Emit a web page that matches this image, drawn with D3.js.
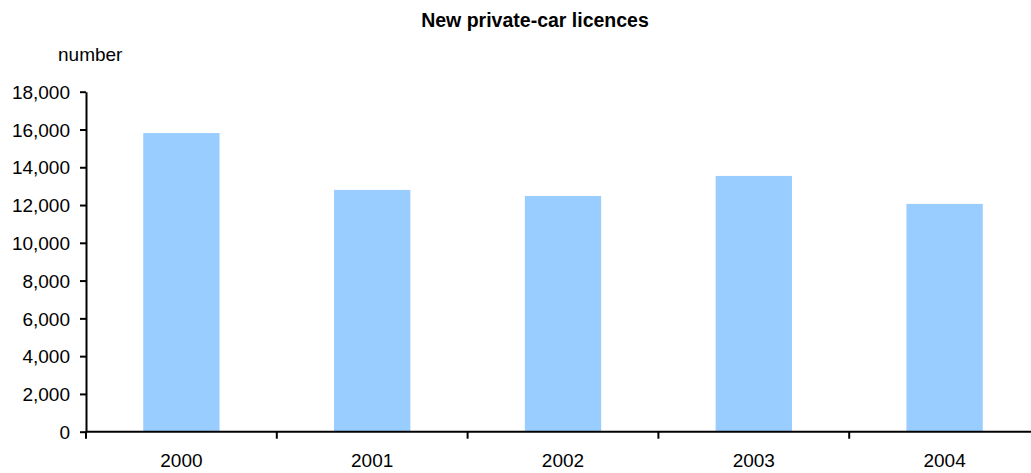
<!DOCTYPE html>
<html><head><meta charset="utf-8">
<script src="https://cdn.jsdelivr.net/npm/d3@7"></script>
<style>body{margin:0;background:#fff}svg{display:block}text{font-family:"Liberation Sans",Arial,sans-serif;fill:#000}</style>
</head><body><svg id="c" width="1031" height="473"></svg>
<script>
const categories = ["2000","2001","2002","2003","2004"];
const values = [15810, 12800, 12480, 13540, 12060];
const yTicks = [0,2000,4000,6000,8000,10000,12000,14000,16000,18000];
const title = "New private-car licences";
const yLabel = "number";

(function(){
const svg = d3.select("#c");
const mL = 86, mR = 1040, mT = 91.7, mB = 431.7;
const x = d3.scaleBand().domain(categories).range([mL, mR]).paddingInner(0.6).paddingOuter(0.3);
const y = d3.scaleLinear().domain([0, 18000]).range([mB, mT]);

svg.selectAll("rect.bar").data(values).join("rect").attr("class","bar")
  .attr("x",(d,i)=>x(categories[i])).attr("width",x.bandwidth())
  .attr("y",d=>y(d)).attr("height",d=>mB-y(d)).attr("fill","#99CCFF");

const yAxis = svg.append("g").attr("transform",`translate(${mL},0)`)
  .call(d3.axisLeft(y).tickValues(yTicks).tickFormat(d3.format(",")).tickSize(6).tickSizeOuter(0).tickPadding(10));
yAxis.selectAll("text").style("font-size","19px").attr("dy","0.35em");
yAxis.selectAll("line,path").attr("stroke","#000").attr("stroke-width",2);

const xg = svg.append("g");
xg.append("line").attr("x1",mL).attr("x2",mR).attr("y1",mB).attr("y2",mB).attr("stroke","#000").attr("stroke-width",2);
const bounds = d3.range(categories.length+1).map(i=>mL + i*(mR-mL)/categories.length);
xg.selectAll("line.t").data(bounds).join("line").attr("class","t")
  .attr("x1",d=>d).attr("x2",d=>d).attr("y1",mB).attr("y2",mB+7).attr("stroke","#000").attr("stroke-width",2);
xg.selectAll("text").data(categories).join("text")
  .attr("x",d=>x(d)+x.bandwidth()/2).attr("y",467).attr("text-anchor","middle").style("font-size","19px").text(d=>d);

svg.append("text").attr("x",535).attr("y",27).attr("text-anchor","middle").style("font-size","19.5px").style("font-weight","bold").text(title);
svg.append("text").attr("x",58).attr("y",61).style("font-size","19px").text(yLabel);
})();
</script></body></html>
